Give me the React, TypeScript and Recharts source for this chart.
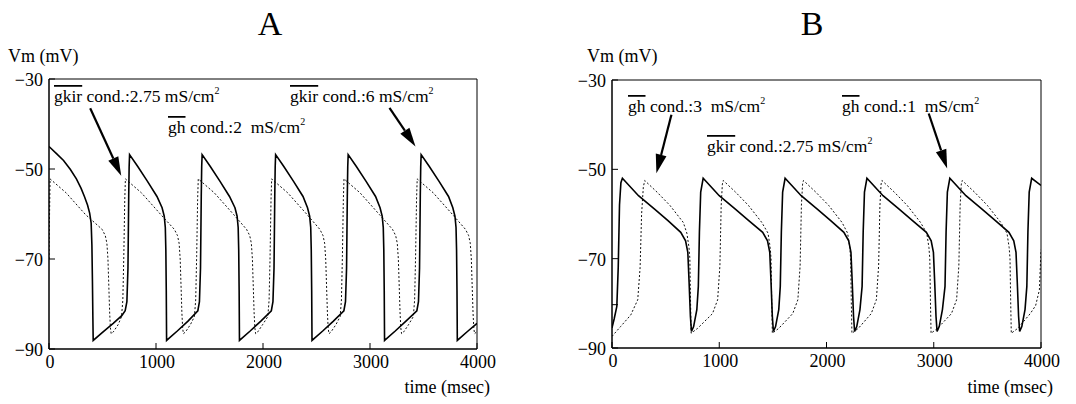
import React from 'react';
import { LineChart, Line, XAxis, YAxis, ReferenceArea, ReferenceLine } from 'recharts';

// time (msec) / Vm (mV)
const TIME_TICKS = [0, 1000, 2000, 3000, 4000];
const VM_TICKS = [-30, -50, -70, -90];

// panel A, solid trace (gkir 6 mS/cm2)
const A_SOLID: number[][] = [
  [0, -45.0], [70, -46.6], [136, -48.1], [200, -50.1], [256, -52.2], [300, -54.3], [331, -56.1], [360, -58.0],
  [380, -59.8], [394, -62], [401, -67], [406, -75], [410, -83], [413, -88.1],
  [500, -86.3], [600, -84.3], [680, -82.6], [712, -81.5], [728, -79.5], [738, -72], [745, -56], [749, -49.5], [753, -46.8],
  [828, -49.4], [919, -52.7], [1009, -56.1], [1057, -58.6], [1077, -60.5], [1087, -63], [1092, -68], [1096, -77], [1099, -88.1],
  [1199, -86.0], [1299, -83.8], [1391, -81.5], [1406, -79.5], [1416, -72], [1423, -56], [1427, -49.5], [1431, -46.8],
  [1506, -49.4], [1597, -52.7], [1687, -56.1], [1738, -58.6], [1758, -60.5], [1768, -63], [1773, -68], [1777, -77], [1780, -88.1],
  [1880, -86.0], [1980, -83.8], [2078, -81.5], [2093, -79.5], [2103, -72], [2110, -56], [2114, -49.5], [2118, -46.8],
  [2193, -49.4], [2284, -52.7], [2374, -56.1], [2416, -58.6], [2436, -60.5], [2446, -63], [2451, -68], [2455, -77], [2458, -88.1],
  [2558, -86.0], [2658, -83.8], [2756, -81.5], [2771, -79.5], [2781, -72], [2788, -56], [2792, -49.5], [2796, -46.8],
  [2871, -49.4], [2962, -52.7], [3052, -56.1], [3094, -58.6], [3114, -60.5], [3124, -63], [3129, -68], [3133, -77], [3136, -88.1],
  [3236, -86.0], [3336, -83.8], [3438, -81.5], [3453, -79.5], [3463, -72], [3470, -56], [3474, -49.5], [3478, -46.8],
  [3553, -49.4], [3644, -52.7], [3734, -56.1], [3774, -58.6], [3794, -60.5], [3804, -63], [3809, -68], [3813, -77], [3816, -88.1],
  [3916, -86.0], [4000, -84.3],
];

// panel A, dotted trace (gkir 2.75 mS/cm2)
const A_DOTTED: number[][] = [
  [0, -70], [5, -60], [10, -52.2],
  [160, -55.3], [340, -60.1], [496, -63.4], [526, -64.8], [541, -66.5], [551, -70], [559, -76], [567, -82], [574, -85.3], [581, -86.6],
  [601, -86.2], [646, -84.6], [678, -82.8], [690, -79.1], [699, -69.5], [708, -56.8], [714, -52.2],
  [864, -55.3], [1044, -60.1], [1171, -63.4], [1201, -64.8], [1216, -66.5], [1226, -70], [1234, -76], [1242, -82], [1249, -85.3], [1256, -86.6],
  [1276, -86.2], [1321, -84.6], [1359, -82.8], [1371, -79.1], [1380, -69.5], [1389, -56.8], [1395, -52.2],
  [1545, -55.3], [1725, -60.1], [1846, -63.4], [1876, -64.8], [1891, -66.5], [1901, -70], [1909, -76], [1917, -82], [1924, -85.3], [1931, -86.6],
  [1951, -86.2], [1996, -84.6], [2045, -82.8], [2057, -79.1], [2066, -69.5], [2075, -56.8], [2081, -52.2],
  [2231, -55.3], [2411, -60.1], [2531, -63.4], [2561, -64.8], [2576, -66.5], [2586, -70], [2594, -76], [2602, -82], [2609, -85.3], [2616, -86.6],
  [2636, -86.2], [2681, -84.6], [2721, -82.8], [2733, -79.1], [2742, -69.5], [2751, -56.8], [2757, -52.2],
  [2907, -55.3], [3087, -60.1], [3210, -63.4], [3240, -64.8], [3255, -66.5], [3265, -70], [3273, -76], [3281, -82], [3288, -85.3], [3295, -86.6],
  [3315, -86.2], [3360, -84.6], [3405, -82.8], [3417, -79.1], [3426, -69.5], [3435, -56.8], [3441, -52.2],
  [3591, -55.3], [3771, -60.1], [3892, -63.4], [3922, -64.8], [3937, -66.5], [3947, -70], [3955, -76], [3963, -82], [3970, -85.3], [3977, -86.6],
  [4000, -86.1],
];

// panel B, solid trace (gh 1 mS/cm2)
const B_SOLID: number[][] = [
  [0, -85.5], [20, -83.5], [45, -80.7], [58, -72], [70, -58], [83, -53], [97, -52],
  [247, -55.9], [397, -58.9], [522, -61.5], [641, -64.1], [686, -66], [707, -68.6], [719, -75.4], [731, -82.9], [741, -86.3],
  [761, -85.2], [791, -81.4], [805, -76.2], [815, -64.1], [827, -55.1], [850, -52],
  [1000, -55.9], [1150, -58.9], [1275, -61.5], [1405, -64.1], [1450, -66], [1471, -68.6], [1483, -75.4], [1495, -82.9], [1505, -86.3],
  [1525, -85.2], [1555, -81.4], [1569, -76.2], [1579, -64.1], [1591, -55.1], [1614, -52],
  [1764, -55.9], [1914, -58.9], [2039, -61.5], [2162, -64.1], [2207, -66], [2228, -68.6], [2240, -75.4], [2252, -82.9], [2262, -86.3],
  [2282, -85.2], [2312, -81.4], [2332, -76.2], [2342, -64.1], [2354, -55.1], [2377, -52],
  [2527, -55.9], [2677, -58.9], [2802, -61.5], [2931, -64.1], [2976, -66], [2997, -68.6], [3009, -75.4], [3021, -82.9], [3031, -86.3],
  [3051, -85.2], [3081, -81.4], [3105, -76.2], [3115, -64.1], [3127, -55.1], [3150, -52],
  [3300, -55.9], [3450, -58.9], [3575, -61.5], [3701, -64.1], [3746, -66], [3767, -68.6], [3779, -75.4], [3791, -82.9], [3801, -86.3],
  [3821, -85.2], [3851, -81.4], [3868, -76.2], [3878, -64.1], [3890, -55.1], [3913, -52],
  [4000, -53.6],
];

// short initial segment at the left of panel B
const B_START: number[][] = [[0, -80.3], [56, -80.3]];

// panel B, dotted trace (gh 3 mS/cm2)
const B_DOTTED: number[][] = [
  [0, -87.4], [80, -85.2], [175, -82.6], [240, -79.2], [262, -72], [276, -60], [292, -54], [305, -52.5],
  [420, -55.1], [541, -58.1], [665, -61.9], [698, -64.3], [718, -67.5], [726, -70], [732, -79.2], [738, -86.7],
  [798, -85.6], [937, -82.3], [985, -79.2], [1006, -71.6], [1018, -58.1], [1029, -53.3], [1037, -52.5],
  [1152, -55.1], [1273, -58.1], [1397, -61.9], [1455, -64.3], [1475, -67.5], [1483, -70], [1489, -79.2], [1495, -86.7],
  [1555, -85.6], [1685, -82.3], [1733, -79.2], [1754, -71.6], [1766, -58.1], [1777, -53.3], [1785, -52.5],
  [1900, -55.1], [2021, -58.1], [2145, -61.9], [2197, -64.3], [2217, -67.5], [2225, -70], [2231, -79.2], [2237, -86.7],
  [2297, -85.6], [2417, -82.3], [2465, -79.2], [2486, -71.6], [2498, -58.1], [2509, -53.3], [2517, -52.5],
  [2632, -55.1], [2753, -58.1], [2877, -61.9], [2935, -64.3], [2955, -67.5], [2963, -70], [2969, -79.2], [2975, -86.7],
  [3035, -85.6], [3165, -82.3], [3213, -79.2], [3234, -71.6], [3246, -58.1], [3257, -53.3], [3265, -52.5],
  [3380, -55.1], [3501, -58.1], [3625, -61.9], [3683, -64.3], [3703, -67.5], [3711, -70], [3717, -79.2], [3723, -86.7],
  [3783, -85.6], [3900, -82.3], [3950, -80.5], [3985, -77], [4000, -68],
];

// arrows [t0, v0, t1, v1] in data units
const A_ARROWS = [[385, -36.5, 675, -51.5], [3182, -36.4, 3425, -45]];
const B_ARROWS = [[554, -37.8, 414, -50.9], [2953, -37.5, 3125, -49.8]];

const FONT = 'Liberation Serif, Times New Roman, Times, DejaVu Serif, serif';

const toRows = (pts: number[][]) => pts.map(([t, v]) => ({ t, v }));
const fmt = (v: number) => (v < 0 ? `\u2212${Math.abs(v)}` : `${v}`);

const XTick = (p: any) => {
  const { x, y, payload } = p;
  return (
    <g>
      <line x1={x} x2={x} y1={y} y2={y - 6} stroke="#000" />
      <text x={x + 1} y={y + 19} textAnchor="middle" style={{ fontFamily: FONT }} fontSize={18} fill="#000">
        {payload.value}
      </text>
    </g>
  );
};

const YTick = (p: any) => {
  const { x, y, payload } = p;
  return (
    <g>
      <line x1={x} x2={x + 6} y1={y} y2={y} stroke="#000" />
      <text x={x - 6} y={y + 7} textAnchor="end" style={{ fontFamily: FONT }} fontSize={18} fill="#000">
        {fmt(payload.value)}
      </text>
    </g>
  );
};

const Arrow = (p: any) => {
  const { x1, y1, x2, y2 } = p;
  const len = Math.hypot(x2 - x1, y2 - y1) || 1;
  const ux = (x2 - x1) / len;
  const uy = (y2 - y1) / len;
  const bx = x2 - ux * 19;
  const by = y2 - uy * 19;
  const hw = 5.5;
  return (
    <g>
      <line x1={x1} y1={y1} x2={bx} y2={by} stroke="#000" strokeWidth={2.2} />
      <polygon points={`${x2},${y2} ${bx - uy * hw},${by + ux * hw} ${bx + uy * hw},${by - ux * hw}`} fill="#000" />
    </g>
  );
};

const Panel = ({ solid, dotted, extra, arrows, yWidth, top, xHeight, right, width }: any) => (
  <LineChart width={width} height={404} margin={{ top, right, bottom: 0, left: 0 }}>
    <XAxis
      type="number"
      dataKey="t"
      domain={[0, 4000]}
      ticks={TIME_TICKS}
      allowDataOverflow
      height={xHeight}
      tickSize={0}
      tickMargin={0}
      tickLine={false}
      axisLine={{ stroke: '#000' }}
      tick={(p: any) => <XTick {...p} />}
    />
    <YAxis
      type="number"
      dataKey="v"
      domain={[-90, -30]}
      ticks={VM_TICKS}
      allowDataOverflow
      width={yWidth}
      tickSize={0}
      tickMargin={0}
      tickLine={false}
      axisLine={{ stroke: '#000' }}
      tick={(p: any) => <YTick {...p} />}
    />
    <ReferenceArea x1={0} x2={4000} y1={-90} y2={-30} fill="none" stroke="#000" strokeWidth={1} />
    <Line data={toRows(dotted)} dataKey="v" type="linear" stroke="#111" strokeWidth={1} strokeDasharray="2 2" dot={false} activeDot={false} isAnimationActive={false} />
    <Line data={toRows(solid)} dataKey="v" type="linear" stroke="#000" strokeWidth={1.6} dot={false} activeDot={false} isAnimationActive={false} />
    {extra && (
      <Line data={toRows(extra)} dataKey="v" type="linear" stroke="#000" strokeWidth={1} dot={false} activeDot={false} isAnimationActive={false} />
    )}
    {arrows.map((a: number[], i: number) => (
      <ReferenceLine key={i} segment={[{ x: a[0], y: a[1] }, { x: a[2], y: a[3] }]} shape={(p: any) => <Arrow {...p} />} />
    ))}
  </LineChart>
);

const Note = ({ x, y, bar, rest }: { x: number; y: number; bar: string; rest: string }) => (
  <text x={x} y={y} fontSize={17.5} fill="#000" style={{ whiteSpace: 'pre', fontFamily: FONT }}>
    <tspan style={{ textDecoration: 'overline' }}>{bar}</tspan>
    {rest}
    <tspan dy={-8} fontSize={10}>2</tspan>
  </text>
);

export default function App() {
  return (
    <div style={{ position: 'absolute', left: 0, top: 0, width: 1076, height: 404, background: '#fff', overflow: 'hidden', fontFamily: FONT }}>
      <div style={{ position: 'absolute', left: 0, top: 0 }}>
        <Panel solid={A_SOLID} dotted={A_DOTTED} arrows={A_ARROWS} yWidth={49} top={79} xHeight={55} right={63} width={540} />
      </div>
      <div style={{ position: 'absolute', left: 540, top: 0 }}>
        <Panel solid={B_SOLID} dotted={B_DOTTED} extra={B_START} arrows={B_ARROWS} yWidth={72} top={80} xHeight={56} right={35} width={536} />
      </div>
      <svg width={1076} height={404} style={{ position: 'absolute', left: 0, top: 0, pointerEvents: 'none', fontFamily: FONT }}>
        <g fill="#000">
          <text x={270} y={35} fontSize={34} textAnchor="middle">A</text>
          <text x={812} y={35} fontSize={34} textAnchor="middle">B</text>
          <text x={8} y={62} fontSize={18}>Vm (mV)</text>
          <text x={587} y={62} fontSize={18}>Vm (mV)</text>
          <text x={490} y={393} fontSize={18} textAnchor="end">time (msec)</text>
          <text x={1053} y={393} fontSize={18} textAnchor="end">time (msec)</text>
        </g>
        <Note x={54} y={102} bar="gkir" rest=" cond.:2.75 mS/cm" />
        <Note x={168} y={133} bar="gh" rest=" cond.:2  mS/cm" />
        <Note x={290} y={102} bar="gkir" rest=" cond.:6 mS/cm" />
        <Note x={628} y={112} bar="gh" rest=" cond.:3  mS/cm" />
        <Note x={842} y={112} bar="gh" rest=" cond.:1  mS/cm" />
        <Note x={707} y={152} bar="gkir" rest=" cond.:2.75 mS/cm" />
      </svg>
    </div>
  );
}
